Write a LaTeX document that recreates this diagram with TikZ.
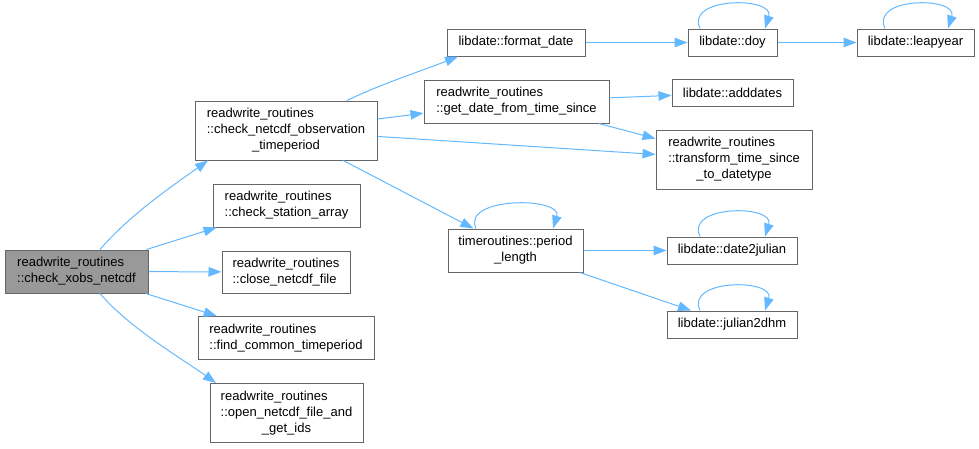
\documentclass[tikz,border=0pt]{standalone}
\usepackage{fontspec}
\setmainfont{Liberation Sans}
\usetikzlibrary{arrows.meta}
\definecolor{edgec}{HTML}{63B8FF}
\definecolor{boxc}{HTML}{666666}
\definecolor{rootc}{HTML}{999999}
\begin{document}
\begin{tikzpicture}[x=1pt,y=-1pt,
  fn/.style={draw=boxc, line width=1pt, fill=white, inner sep=0pt, font=\fontsize{13}{16}\selectfont},
  rootfn/.style={fn, fill=rootc},
  ed/.style={draw=edgec, line width=1pt, -{Triangle[length=13pt,width=9.5pt]}}]
\useasboundingbox (0,0) rectangle (979,448);
% column 1
\node[rootfn, minimum width=143pt, minimum height=43pt] (root) at (76.5,271.5)
  {\begin{tabular}{@{}l@{}}readwrite\_routines\\::check\_xobs\_netcdf\end{tabular}};
% column 2
\node[fn, minimum width=182pt, minimum height=59pt] (cnot) at (286,130.5)
  {\begin{tabular}{@{}l@{}}readwrite\_routines\\::check\_netcdf\_observation\\\multicolumn{1}{@{}c@{}}{\_timeperiod}\end{tabular}};
\node[fn, minimum width=147pt, minimum height=43pt] (csa) at (286.5,205.5)
  {\begin{tabular}{@{}l@{}}readwrite\_routines\\::check\_station\_array\end{tabular}};
\node[fn, minimum width=128pt, minimum height=42pt] (close) at (286,272)
  {\begin{tabular}{@{}l@{}}readwrite\_routines\\::close\_netcdf\_file\end{tabular}};
\node[fn, minimum width=176pt, minimum height=43pt] (find) at (286,338)
  {\begin{tabular}{@{}l@{}}readwrite\_routines\\::find\_common\_timeperiod\end{tabular}};
\node[fn, minimum width=153pt, minimum height=59pt] (open) at (286.5,413)
  {\begin{tabular}{@{}l@{}}readwrite\_routines\\::open\_netcdf\_file\_and\\\multicolumn{1}{@{}c@{}}{\_get\_ids}\end{tabular}};
% column 3
\node[fn, minimum width=138pt, minimum height=27pt] (fmt) at (516,42.5) {libdate::format\_date};
\node[fn, minimum width=185pt, minimum height=43pt] (gdate) at (516.5,101.5)
  {\begin{tabular}{@{}l@{}}readwrite\_routines\\::get\_date\_from\_time\_since\end{tabular}};
\node[fn, minimum width=135pt, minimum height=43pt] (period) at (515.5,250.5)
  {\begin{tabular}{@{}l@{}}timeroutines::period\\\multicolumn{1}{@{}c@{}}{\_length}\end{tabular}};
% column 4
\node[fn, minimum width=89pt, minimum height=27pt] (doy) at (732.5,42.5) {libdate::doy};
\node[fn, minimum width=121pt, minimum height=27pt] (add) at (732.5,93) {libdate::adddates};
\node[fn, minimum width=156pt, minimum height=59pt] (trans) at (734,159.5)
  {\begin{tabular}{@{}l@{}}readwrite\_routines\\::transform\_time\_since\\\multicolumn{1}{@{}c@{}}{\_to\_datetype}\end{tabular}};
\node[fn, minimum width=130pt, minimum height=27pt] (d2j) at (732,250.5) {libdate::date2julian};
\node[fn, minimum width=130pt, minimum height=27pt] (j2d) at (732,324.5) {libdate::julian2dhm};
% column 5
\node[fn, minimum width=117pt, minimum height=27pt] (leap) at (915.5,42.5) {libdate::leapyear};
% edges from root
\draw[ed] ([xshift=23.5pt]root.north) .. controls +(30,-35) and +(-35,25) .. ([xshift=-78pt]cnot.south);
\draw[ed] (root) -- (csa);
\draw[ed] (root) -- (close);
\draw[ed] (root) -- (find);
\draw[ed] ([xshift=23.5pt]root.south) .. controls +(30,35) and +(-35,-25) .. ([xshift=-70.5pt]open.north);
% edges from cnot
\draw[ed] ([xshift=61pt]cnot.north) .. controls +(30,-15) and +(-30,12) .. ([xshift=-58pt]fmt.south);
\draw[ed] (cnot) -- (gdate);
\draw[ed] (cnot) -- (trans);
\draw[ed] (cnot) -- (period);
% others
\draw[ed] (gdate) -- (add);
\draw[ed] (gdate) -- (trans);
\draw[ed] (fmt) -- (doy);
\draw[ed] (doy) -- (leap);
\draw[ed] (period) -- (d2j);
\draw[ed] (period) -- (j2d);
% self loops
\draw[ed] ([xshift=-32.5pt]doy.north) .. controls +(-15,-32) and +(10,-32) .. ([xshift=32.5pt]doy.north);
\draw[ed] ([xshift=-30.5pt]leap.north) .. controls +(-15,-32) and +(10,-32) .. ([xshift=32.5pt]leap.north);
\draw[ed] ([xshift=-39.5pt]period.north) .. controls +(-15,-32) and +(10,-32) .. ([xshift=37.5pt]period.north);
\draw[ed] ([xshift=-32pt]d2j.north) .. controls +(-15,-32) and +(10,-32) .. ([xshift=33pt]d2j.north);
\draw[ed] ([xshift=-32pt]j2d.north) .. controls +(-15,-32) and +(10,-32) .. ([xshift=33pt]j2d.north);
\end{tikzpicture}
\end{document}
